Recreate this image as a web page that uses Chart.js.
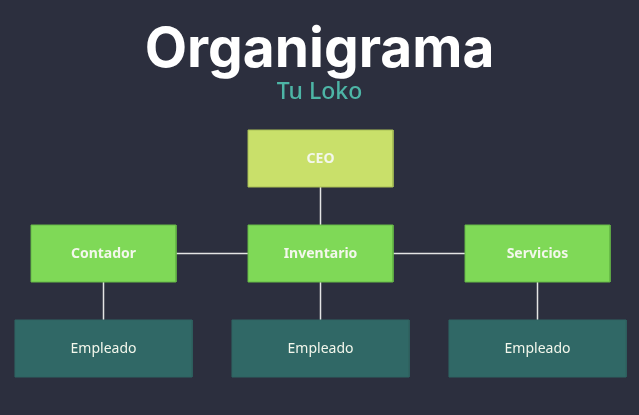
<!DOCTYPE html>
<html>
<head>
<meta charset="utf-8">
<title>Organigrama</title>
<script src="https://cdn.jsdelivr.net/npm/chart.js@4.4.1/dist/chart.umd.min.js"></script>
<style>
    html, body { margin: 0; padding: 0; background: #2c2f3e; }
    #wrap { width: 639px; height: 415px; position: relative; }
</style>
</head>
<body>
<div id="wrap"><canvas id="chart"></canvas></div>
<script>
// datos del organigrama
const nodeLabels = ['CEO', 'Contador', 'Inventario', 'Servicios', 'Empleado', 'Empleado', 'Empleado'];
const nodeParents = [null, 0, 0, 0, 1, 2, 3];
const chartTitle = 'Organigrama';
const chartSubtitle = 'Tu Loko';

// estilo por nivel
const levelColors = ['#c9e06a', '#7fd957', '#306866'];
const levelBorders = ['#a9bf55', '#67b947', '#2f6462'];
const levelHalfWidth = [0.334, 0.334, 0.408];   // en columnas
const boxHalfHeight = 0.3;                       // en niveles
const textColor = '#f3f7ec';
const lineColor = '#e4e4e4';

// layout: nivel y columna calculados desde la jerarquia
const nodeLevels = nodeParents.map(function lvl(p, i) {
    return p === null ? 0 : lvl(nodeParents[p], p) + 1;
});
const nodeColumns = [];
nodeParents.forEach((p, i) => {
    if (p === null) { nodeColumns[i] = 0; return; }
    const siblings = nodeParents.map((q, j) => q === p ? j : -1).filter(j => j >= 0);
    const k = siblings.indexOf(i);
    nodeColumns[i] = nodeColumns[p] + k - (siblings.length - 1) / 2;
});

// escalas en px (columna = 217px, nivel = 95px)
const colPx = 217, colOrigin = 320.5;
const lvlPx = 95, lvlOrigin = 158.5;
const W = 639, H = 415;

const titleFont = { family: 'Inter, "Noto Sans", sans-serif', size: 55, weight: '700', lineHeight: 1.0 };
const titlePad = { top: 23, bottom: 0 };
const subFont = { family: '"Noto Sans", Inter, sans-serif', size: 23, weight: '500', lineHeight: 1.2 };
const subPad = { top: 1, bottom: 6 };
const areaTop = titlePad.top + titleFont.size * titleFont.lineHeight + titlePad.bottom
    + subPad.top + subFont.size * subFont.lineHeight + subPad.bottom;

const datasets = [];

// cajas (primero = encima)
nodeLabels.forEach((label, i) => {
    const lv = nodeLevels[i], c = nodeColumns[i];
    const hw = levelHalfWidth[lv], hh = boxHalfHeight;
    datasets.push({
        label: label,
        data: [
            { x: c - hw, y: lv - hh },
            { x: c + hw, y: lv - hh },
            { x: c + hw, y: lv + hh },
            { x: c - hw, y: lv + hh },
            { x: c - hw, y: lv - hh }
        ],
        backgroundColor: levelColors[lv],
        borderColor: levelBorders[lv],
        borderWidth: 1,
        fill: 'shape',
        pointRadius: 0,
        tension: 0
    });
});

// conectores
function addEdge(x1, y1, x2, y2) {
    datasets.push({
        label: 'edge',
        data: [{ x: x1, y: y1 }, { x: x2, y: y2 }],
        borderColor: lineColor,
        borderWidth: 1.5,
        fill: false,
        pointRadius: 0
    });
}
nodeLabels.forEach((label, p) => {
    const kids = nodeParents.map((q, j) => q === p ? j : -1).filter(j => j >= 0);
    if (!kids.length) return;
    const kidLevel = nodeLevels[kids[0]];
    addEdge(nodeColumns[p], nodeLevels[p], nodeColumns[p], kidLevel);
    if (kids.length > 1) {
        const cols = kids.map(k => nodeColumns[k]);
        addEdge(Math.min(...cols), kidLevel, Math.max(...cols), kidLevel);
    }
});

const boxLabels = {
    id: 'boxLabels',
    afterDatasetsDraw(chart) {
        const ctx = chart.ctx;
        const xs = chart.scales.x, ys = chart.scales.y;
        ctx.save();
        ctx.fillStyle = textColor;
        ctx.textAlign = 'center';
        ctx.textBaseline = 'middle';
        nodeLabels.forEach((label, i) => {
            const lv = nodeLevels[i];
            ctx.font = (lv < 2 ? '700 ' : '400 ') + '14px "Noto Sans", sans-serif';
            ctx.fillText(label, xs.getPixelForValue(nodeColumns[i]), ys.getPixelForValue(lv) + 1);
        });
        ctx.restore();
    }
};

new Chart(document.getElementById('chart'), {
    type: 'line',
    data: { datasets: datasets },
    options: {
        responsive: true,
        maintainAspectRatio: false,
        animation: false,
        events: [],
        layout: { padding: 0 },
        plugins: {
            legend: { display: false },
            tooltip: { enabled: false },
            title: {
                display: true,
                text: chartTitle,
                color: '#ffffff',
                font: titleFont,
                padding: titlePad
            },
            subtitle: {
                display: true,
                text: chartSubtitle,
                color: '#4db5a6',
                font: subFont,
                padding: subPad
            }
        },
        scales: {
            x: {
                type: 'linear',
                display: false,
                min: -colOrigin / colPx,
                max: (W - colOrigin) / colPx
            },
            y: {
                type: 'linear',
                display: false,
                reverse: true,
                min: (areaTop - lvlOrigin) / lvlPx,
                max: (H - lvlOrigin) / lvlPx
            }
        }
    },
    plugins: [boxLabels]
});
</script>
</body>
</html>
